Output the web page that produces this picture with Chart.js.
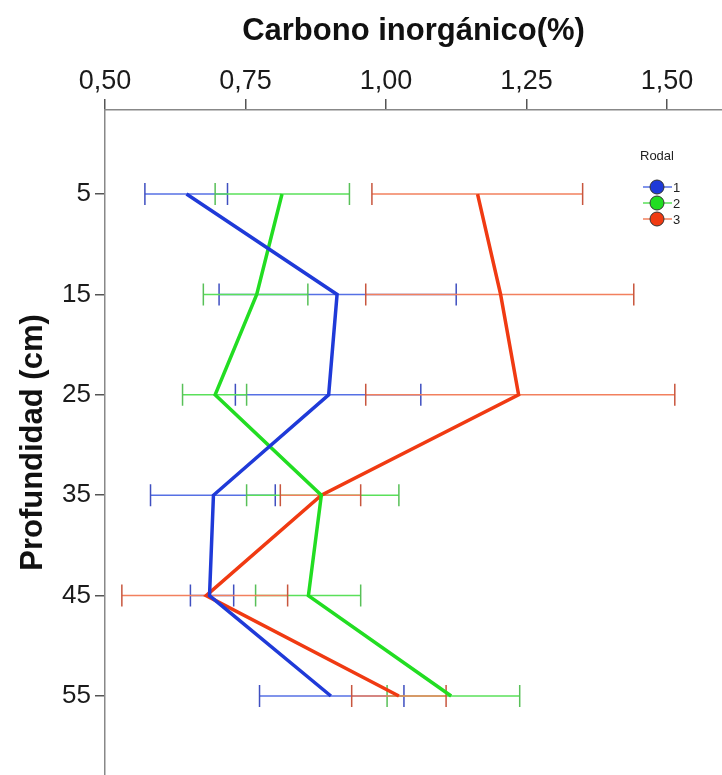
<!DOCTYPE html>
<html>
<head>
<meta charset="utf-8">
<script src="https://cdn.jsdelivr.net/npm/chart.js@4"></script>
<style>
  html, body { margin: 0; padding: 0; background: #fff; }
  #wrap { width: 722px; height: 775px; }
</style>
</head>
<body>
<div id="wrap"><canvas id="c" width="722" height="775"></canvas></div>
<script>
// profundidad (cm)
const depths = [5, 15, 25, 35, 45, 55];
const xTicks = [0.5, 0.75, 1.0, 1.25, 1.5];
const rodales = ['1', '2', '3'];

// carbono inorgánico (%) medias e intervalos
const mean1 = [0.645, 0.913, 0.898, 0.693, 0.686, 0.902];
const low1  = [0.571, 0.703, 0.732, 0.581, 0.652, 0.775];
const high1 = [0.718, 1.125, 1.062, 0.803, 0.729, 1.032];

const mean2 = [0.815, 0.770, 0.696, 0.885, 0.862, 1.116];
const low2  = [0.696, 0.675, 0.638, 0.752, 0.768, 1.002];
const high2 = [0.935, 0.861, 0.752, 1.023, 0.955, 1.238];

const mean3 = [1.163, 1.204, 1.236, 0.885, 0.680, 1.023];
const low3  = [0.975, 0.964, 0.964, 0.812, 0.530, 0.939];
const high3 = [1.350, 1.441, 1.514, 0.955, 0.825, 1.107];

const lineColors = ['#1f3ad8', '#22dd22', '#f03a12'];
const barColors  = ['#5670e4', '#5ae05a', '#f2805e'];
const capColors  = ['#3f4fc0', '#58c058', '#c8563e'];
const lows = [low1, low2, low3];
const highs = [high1, high2, high3];

const pts = (arr) => arr.map((v, i) => ({ x: v, y: depths[i] }));
const fmt = (v) => v.toFixed(2).replace('.', ',');
const FONT = '"Liberation Sans", Arial, sans-serif';

const errorBars = {
    id: 'errorBars',
    beforeDatasetsDraw(chart) {
        const ctx = chart.ctx;
        const xs = chart.scales.x, ys = chart.scales.y;
        ctx.save();
        ctx.lineWidth = 1.5;
        for (let s = 0; s < 3; s++) {
            for (let i = 0; i < depths.length; i++) {
                const y = ys.getPixelForValue(depths[i]);
                const x1 = xs.getPixelForValue(lows[s][i]);
                const x2 = xs.getPixelForValue(highs[s][i]);
                ctx.strokeStyle = barColors[s];
                ctx.beginPath();
                ctx.moveTo(x1, y); ctx.lineTo(x2, y);
                ctx.stroke();
                ctx.strokeStyle = capColors[s];
                ctx.beginPath();
                ctx.moveTo(x1, y - 11); ctx.lineTo(x1, y + 11);
                ctx.moveTo(x2, y - 11); ctx.lineTo(x2, y + 11);
                ctx.stroke();
            }
        }
        ctx.restore();
    }
};

const rodalLegend = {
    id: 'rodalLegend',
    afterDraw(chart) {
        const ctx = chart.ctx;
        ctx.save();
        ctx.fillStyle = '#222';
        ctx.font = '13px ' + FONT;
        ctx.textAlign = 'left';
        ctx.textBaseline = 'middle';
        ctx.fillText('Rodal', 640, 156);
        for (let s = 0; s < 3; s++) {
            const y = 187 + s * 16;
            ctx.strokeStyle = barColors[s];
            ctx.lineWidth = 1.5;
            ctx.beginPath();
            ctx.moveTo(643, y); ctx.lineTo(672, y);
            ctx.stroke();
            ctx.fillStyle = lineColors[s];
            ctx.strokeStyle = '#333';
            ctx.lineWidth = 1;
            ctx.beginPath();
            ctx.arc(657, y, 7, 0, Math.PI * 2);
            ctx.fill(); ctx.stroke();
            ctx.fillStyle = '#222';
            ctx.fillText(rodales[s], 673, y + 1);
        }
        ctx.restore();
    }
};

new Chart(document.getElementById('c'), {
    type: 'line',
    data: {
        datasets: [mean1, mean2, mean3].map((m, s) => ({
            label: rodales[s],
            data: pts(m),
            borderColor: lineColors[s],
            backgroundColor: lineColors[s],
            borderWidth: 3.5,
            pointRadius: 0,
            tension: 0
        }))
    },
    options: {
        responsive: false,
        animation: false,
        layout: { padding: 0, autoPadding: false },
        plugins: { legend: { display: false }, tooltip: { enabled: false } },
        scales: {
            x: {
                type: 'linear',
                position: 'top',
                min: 0.5,
                max: 1.598,
                afterBuildTicks: (sc) => { sc.ticks = xTicks.map(v => ({ value: v })); },
                afterFit: (sc) => {
                    sc.height = 110;
                    sc.paddingLeft = 0;
                    sc.paddingRight = 0;
                },
                ticks: {
                    callback: (v) => fmt(v),
                    color: '#1a1a1a',
                    font: { family: FONT, size: 27 },
                    padding: 1,
                    maxRotation: 0
                },
                grid: { drawOnChartArea: false, drawTicks: true, tickLength: 11, color: '#555', lineWidth: 1.5 },
                border: { display: true, color: '#888', width: 1.5 },
                title: {
                    display: true,
                    text: 'Carbono inorgánico(%)',
                    color: '#111',
                    font: { family: FONT, size: 31, weight: 'bold' },
                    padding: { top: 13, bottom: 0 }
                }
            },
            y: {
                type: 'linear',
                reverse: true,
                min: -3.37,
                max: 62.87,
                afterBuildTicks: (sc) => { sc.ticks = depths.map(v => ({ value: v })); },
                afterFit: (sc) => {
                    sc.width = 105;
                    sc.paddingTop = 0;
                    sc.paddingBottom = 0;
                },
                ticks: {
                    color: '#1a1a1a',
                    font: { family: FONT, size: 26 },
                    padding: 4
                },
                grid: { drawOnChartArea: false, drawTicks: true, tickLength: 10, color: '#555', lineWidth: 1.5 },
                border: { display: true, color: '#888', width: 1.5 },
                title: {
                    display: true,
                    text: 'Profundidad (cm)',
                    color: '#111',
                    font: { family: FONT, size: 31, weight: 'bold' },
                    padding: { top: 15, bottom: 0 }
                }
            }
        }
    },
    plugins: [errorBars, rodalLegend]
});
</script>
</body>
</html>
